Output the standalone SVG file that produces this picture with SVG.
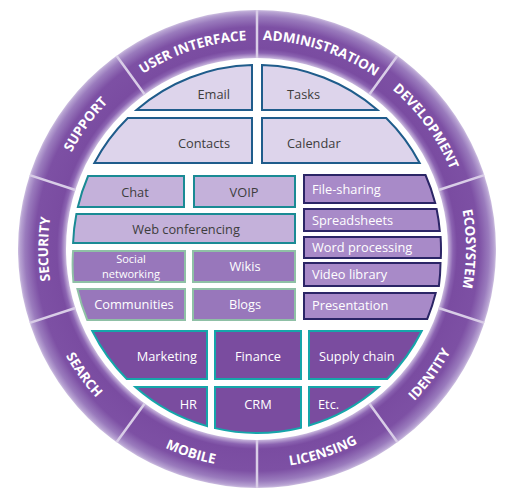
<svg xmlns="http://www.w3.org/2000/svg" width="514" height="500" viewBox="0 0 514 500">
<defs>
<radialGradient id="ringGrad" gradientUnits="userSpaceOnUse" cx="257" cy="249" r="239">
<stop offset="0" stop-color="#c9b8de"/>
<stop offset="0.799" stop-color="#c9b8de"/>
<stop offset="0.82" stop-color="#8b63b1"/>
<stop offset="0.837" stop-color="#7a4ca1"/>
<stop offset="0.929" stop-color="#7d50a4"/>
<stop offset="0.971" stop-color="#9a7bbd"/>
<stop offset="0.992" stop-color="#b7a2d2"/>
<stop offset="1" stop-color="#cdbfe0"/>
</radialGradient>
<path id="pUI" d="M134.15,79.92 A209,209 0 0 1 257,40"/>
<path id="pADM" d="M257,40 A209,209 0 0 1 379.85,79.92"/>
<path id="pDEV" d="M379.85,79.92 A209,209 0 0 1 455.78,184.42"/>
<path id="pECO" d="M455.78,184.42 A209,209 0 0 1 455.78,313.58"/>
<path id="pSEC" d="M58.22,313.58 A209,209 0 0 1 58.22,184.42"/>
<path id="pSUP" d="M58.22,184.42 A209,209 0 0 1 134.15,79.92"/>
<path id="pIDE" d="M385.73,426.17 A219,219 0 0 0 465.29,316.67"/>
<path id="pLIC" d="M257,468 A219,219 0 0 0 385.73,426.17"/>
<path id="pMOB" d="M128.27,426.17 A219,219 0 0 0 257,468"/>
<path id="pSEA" d="M48.71,316.67 A219,219 0 0 0 128.27,426.17"/>
</defs>
<style>
.ring{fill:url(#ringGrad);fill-rule:evenodd}
.sep{stroke:#d9cde7;stroke-width:2.5}
.rl{font-family:"Open Sans","Liberation Sans",sans-serif;font-weight:bold;font-size:13.5px;fill:#ffffff}
.t{font-family:"Open Sans","Liberation Sans",sans-serif;font-size:12.8px}
.sm{font-size:11px}
.top{fill:#ddd4eb;stroke:#1f5c8b;stroke-width:2}
.lt{fill:#c4b1da;stroke:#1a8a94;stroke-width:2}
.md{fill:#9877bb;stroke:#8fc0a6;stroke-width:2}
.rc{fill:#a88ac8;stroke:#2b2566;stroke-width:2}
.bt{fill:#7a4c9f;stroke:#16a5aa;stroke-width:2}
.dk{fill:#3d3d3d}
.wh{fill:#ffffff}
</style>
<rect width="514" height="500" fill="#ffffff"/>
<g id="ring">
<path class="ring" d="M257,10 A239,239 0 1 1 256.99,10 Z M257,58 A191,191 0 1 0 257.01,58 Z"/>
<g class="sep">
<line x1="257" y1="58" x2="257" y2="10"/>
<line x1="369.27" y1="94.48" x2="397.48" y2="55.65"/>
<line x1="438.65" y1="189.98" x2="484.3" y2="175.14"/>
<line x1="438.65" y1="308.02" x2="484.3" y2="322.86"/>
<line x1="369.27" y1="403.52" x2="397.48" y2="442.35"/>
<line x1="257" y1="440" x2="257" y2="488"/>
<line x1="144.73" y1="403.52" x2="116.52" y2="442.35"/>
<line x1="75.35" y1="308.02" x2="29.7" y2="322.86"/>
<line x1="75.35" y1="189.98" x2="29.7" y2="175.14"/>
<line x1="144.73" y1="94.48" x2="116.52" y2="55.65"/>
</g>
</g>
<g id="ring-labels">
<text class="rl"><textPath href="#pUI" startOffset="50%" text-anchor="middle">USER INTERFACE</textPath></text>
<text class="rl"><textPath href="#pADM" startOffset="50%" text-anchor="middle">ADMINISTRATION</textPath></text>
<text class="rl"><textPath href="#pDEV" startOffset="50%" text-anchor="middle">DEVELOPMENT</textPath></text>
<text class="rl"><textPath href="#pECO" startOffset="50%" text-anchor="middle">ECOSYSTEM</textPath></text>
<text class="rl"><textPath href="#pIDE" startOffset="50%" text-anchor="middle">IDENTITY</textPath></text>
<text class="rl"><textPath href="#pLIC" startOffset="50%" text-anchor="middle">LICENSING</textPath></text>
<text class="rl"><textPath href="#pMOB" startOffset="50%" text-anchor="middle">MOBILE</textPath></text>
<text class="rl"><textPath href="#pSEA" startOffset="50%" text-anchor="middle">SEARCH</textPath></text>
<text class="rl"><textPath href="#pSEC" startOffset="50%" text-anchor="middle">SECURITY</textPath></text>
<text class="rl"><textPath href="#pSUP" startOffset="50%" text-anchor="middle">SUPPORT</textPath></text>
</g>
<g id="email"><path class="top" d="M252,110 V65.07 A184,184 0 0 0 136.44,110 Z"/><text class="t dk" x="230" y="98.5" text-anchor="end">Email</text></g>
<g id="tasks"><path class="top" d="M262,110 V65.07 A184,184 0 0 1 377.56,110 Z"/><text class="t dk" x="287" y="98.5">Tasks</text></g>
<g id="contacts"><path class="top" d="M252,118 V163 H94.33 A184,184 0 0 1 127.8,118 Z"/><text class="t dk" x="230" y="147.5" text-anchor="end">Contacts</text></g>
<g id="calendar"><path class="top" d="M262,118 H386.2 A184,184 0 0 1 419.67,163 H262 Z"/><text class="t dk" x="287" y="147.5">Calendar</text></g>
<g id="chat"><path class="lt" d="M184,176 V207 H77.86 A184,184 0 0 1 88.1,176 Z"/><text class="t dk" x="135" y="196.5" text-anchor="middle">Chat</text></g>
<g id="voip"><rect class="lt" x="194" y="176" width="101" height="31"/><text class="t dk" x="244" y="196.5" text-anchor="middle">VOIP</text></g>
<g id="webconf"><path class="lt" d="M295,214 V243 H73.1 A184,184 0 0 1 76.4,214 Z"/><text class="t dk" x="186" y="233.5" text-anchor="middle">Web conferencing</text></g>
<g id="social"><path class="md" d="M185,251 V282 H73.4 A184,184 0 0 1 73.1,251 Z"/><text class="t sm wh" x="131" y="262.5" text-anchor="middle">Social</text><text class="t sm wh" x="131" y="277.5" text-anchor="middle">networking</text></g>
<g id="wikis"><rect class="md" x="193" y="251" width="102" height="31"/><text class="t wh" x="245" y="271" text-anchor="middle">Wikis</text></g>
<g id="communities"><path class="md" d="M185,289 V320 H87.3 A184,184 0 0 1 77.4,289 Z"/><text class="t wh" x="134" y="308.5" text-anchor="middle">Communities</text></g>
<g id="blogs"><rect class="md" x="193" y="289" width="102" height="31"/><text class="t wh" x="245" y="308.5" text-anchor="middle">Blogs</text></g>
<g id="filesharing"><path class="rc" d="M304,175 H425.5 A184,184 0 0 1 435.2,203 H304 Z"/><text class="t wh" x="312" y="193.5">File-sharing</text></g>
<g id="spreadsheets"><path class="rc" d="M304,209 H436.6 A184,184 0 0 1 439.8,231 H304 Z"/><text class="t wh" x="312" y="224.5">Spreadsheets</text></g>
<g id="wordprocessing"><path class="rc" d="M304,237 H440.6 A184,184 0 0 1 440.8,258 H304 Z"/><text class="t wh" x="312" y="251.5">Word processing</text></g>
<g id="videolibrary"><path class="rc" d="M304,263 H440.5 A184,184 0 0 1 438.9,286 H304 Z"/><text class="t wh" x="312" y="278.5">Video library</text></g>
<g id="presentation"><path class="rc" d="M304,293 H435.7 A184,184 0 0 1 427.2,319 H304 Z"/><text class="t wh" x="312" y="309.5">Presentation</text></g>
<g id="marketing"><path class="bt" d="M207,331 V379 H126.8 A184,184 0 0 1 92.3,331 Z"/><text class="t wh" x="197" y="360.5" text-anchor="end">Marketing</text></g>
<g id="finance"><rect class="bt" x="215" y="331" width="86" height="48"/><text class="t wh" x="258" y="360.5" text-anchor="middle">Finance</text></g>
<g id="supplychain"><path class="bt" d="M309,331 H421.7 A184,184 0 0 1 387.2,379 H309 Z"/><text class="t wh" x="319" y="360.5">Supply chain</text></g>
<g id="hr"><path class="bt" d="M207,387 V426.1 A184,184 0 0 1 135.3,387 Z"/><text class="t wh" x="197" y="408.5" text-anchor="end">HR</text></g>
<g id="crm"><path class="bt" d="M215,387 H301 V427.66 A184,184 0 0 1 215,428.1 Z"/><text class="t wh" x="258" y="408.5" text-anchor="middle">CRM</text></g>
<g id="etc"><path class="bt" d="M309,387 H378.7 A184,184 0 0 1 309,425.5 Z"/><text class="t wh" x="318" y="408.5">Etc.</text></g>
</svg>
